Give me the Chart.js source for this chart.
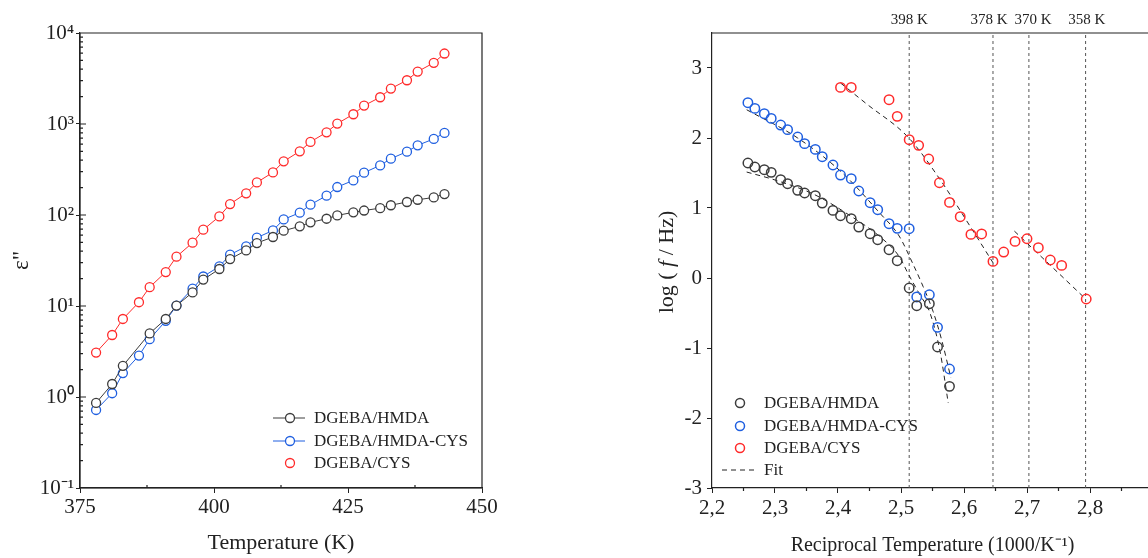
<!DOCTYPE html>
<html>
<head>
<meta charset="utf-8">
<script src="https://cdn.jsdelivr.net/npm/chart.js@4.4.0/dist/chart.umd.min.js"></script>
<style>
  html, body { margin: 0; padding: 0; background: #fff; overflow: hidden; width: 1148px; height: 558px; }
  #left { position: absolute; left: 0; top: 0; }
  #right { position: absolute; left: 574px; top: 0; }
</style>
</head>
<body>
<canvas id="left" width="574" height="558"></canvas>
<canvas id="right" width="600" height="558"></canvas>
<script>
// ---- left panel: eps'' vs temperature ----
const tempK = [378, 381, 383, 386, 388, 391, 393, 396, 398, 401, 403, 406, 408, 411, 413, 416, 418, 421, 423, 426, 428, 431, 433, 436, 438, 441, 443];
const epsHmda = [0.86, 1.39, 2.2, null, 5.0, 7.2, 10.1, 14.1, 19.5, 25.5, 32.8, 40.8, 49.2, 57.3, 67.2, 75, 83, 91, 99, 107, 112, 119, 128, 139, 147, 156, 170];
const epsHmdaCys = [0.72, 1.10, 1.83, 2.85, 4.32, 6.87, 10.1, 15.5, 21.1, 27.2, 36.6, 45.2, 56.3, 67.7, 89.5, 106, 130, 163, 203, 240, 292, 351, 416, 497, 583, 686, 798];
const epsCys = [3.08, 4.8, 7.2, 11.0, 16.1, 23.6, 34.8, 49.6, 68.9, 96.5, 132, 173, 228, 294, 389, 501, 636, 810, 1010, 1280, 1593, 1968, 2450, 3025, 3770, 4700, 5950];
const tempTicks = [375, 400, 425, 450];

// ---- right panel: log f vs 1000/T ----
const recipT = [2.257, 2.268, 2.283, 2.294, 2.309, 2.320, 2.336, 2.347, 2.364, 2.375, 2.392, 2.404, 2.421, 2.433, 2.451, 2.463, 2.481, 2.494, 2.513, 2.525, 2.545, 2.558, 2.577];
const logfHmda = [1.643, 1.586, 1.547, 1.509, 1.404, 1.347, 1.252, 1.214, 1.176, 1.071, 0.966, 0.890, 0.847, 0.728, 0.633, 0.547, 0.404, 0.247, -0.143, -0.396, -0.367, -0.986, -1.548];
const logfHmdaCys = [2.504, 2.423, 2.347, 2.280, 2.185, 2.119, 2.014, 1.919, 1.837, 1.733, 1.614, 1.471, 1.419, 1.243, 1.076, 0.976, 0.776, 0.709, 0.704, -0.271, -0.239, -0.705, -1.300];
const recipCys = [2.404, 2.421, 2.481, 2.494, 2.513, 2.528, 2.544, 2.561, 2.577, 2.594, 2.611, 2.628, 2.646, 2.663, 2.681, 2.700, 2.718, 2.737, 2.755, 2.794];
const logfCys = [2.723, 2.723, 2.547, 2.309, 1.976, 1.895, 1.700, 1.361, 1.080, 0.876, 0.623, 0.629, 0.237, 0.371, 0.523, 0.561, 0.433, 0.257, 0.180, -0.300];

const fitHmdaX = [2.255, 2.30, 2.363, 2.421, 2.466, 2.497, 2.512, 2.530, 2.546, 2.562, 2.575];
const fitHmdaY = [1.514, 1.40, 1.19, 0.88, 0.594, 0.309, 0.05, -0.24, -0.50, -1.05, -1.786];
const fitHmdaCysX = [2.255, 2.336, 2.407, 2.466, 2.497, 2.519, 2.535, 2.551, 2.565, 2.579];
const fitHmdaCysY = [2.404, 2.0, 1.50, 0.93, 0.60, 0.20, -0.12, -0.48, -0.90, -1.42];
const fitCys1X = [2.404, 2.445, 2.5125, 2.561, 2.611, 2.648];
const fitCys1Y = [2.786, 2.49, 2.00, 1.42, 0.72, 0.19];
const fitCys2X = [2.680, 2.792];
const fitCys2Y = [0.67, -0.29];

const vlineX = [2.513, 2.646, 2.703, 2.793];
const vlineLabels = ['398 K', '378 K', '370 K', '358 K'];
const vlineLabelX = [2.513, 2.6396, 2.7095, 2.7948];
const recipTicks = [2.2, 2.3, 2.4, 2.5, 2.6, 2.7, 2.8];
const logfTicks = [-3, -2, -1, 0, 1, 2, 3];

const INK = '#222';
const GREY = '#3c3c3c';
const BLUE = '#1f5fe0';
const RED = '#ff2a2a';
const SERIF = '"Liberation Serif", "Times New Roman", serif';

Chart.defaults.font.family = SERIF;
Chart.defaults.color = INK;

const pts = (xs, ys) => xs.map((x, i) => ({ x: x, y: ys[i] })).filter(p => p.y !== null);

function makeDecor(cfg) {
  return {
    id: cfg.id,
    afterDraw(chart) {
      const { ctx, chartArea: a, scales } = chart;
      ctx.save();
      ctx.strokeStyle = INK;
      ctx.lineWidth = 1.2;
      ctx.beginPath();
      if (cfg.box) {
        ctx.rect(a.left, a.top, a.right - a.left, a.bottom - a.top);
      } else {
        ctx.moveTo(a.left, a.top);
        ctx.lineTo(chart.width, a.top);
      }
      ctx.stroke();

      ctx.beginPath();
      cfg.xMinor.forEach(v => {
        const x = scales.x.getPixelForValue(v);
        ctx.moveTo(x, a.bottom);
        ctx.lineTo(x, a.bottom + cfg.xMinorLen);
      });
      cfg.yMinor.forEach(v => {
        const y = scales.y.getPixelForValue(v);
        ctx.moveTo(a.left, y);
        ctx.lineTo(a.left + 3, y);
      });
      cfg.yMajorIn.forEach(v => {
        const y = scales.y.getPixelForValue(v);
        ctx.moveTo(a.left, y);
        ctx.lineTo(a.left + 6, y);
      });
      ctx.stroke();

      // legend
      ctx.font = '17px ' + SERIF;
      ctx.textBaseline = 'middle';
      cfg.legend.forEach(it => {
        ctx.strokeStyle = it.color;
        ctx.lineWidth = 1;
        if (it.line) {
          ctx.setLineDash(it.dash || []);
          ctx.beginPath();
          ctx.moveTo(it.x0, it.y);
          ctx.lineTo(it.x1, it.y);
          ctx.stroke();
          ctx.setLineDash([]);
        }
        if (it.marker) {
          ctx.lineWidth = it.mw || 1.3;
          ctx.fillStyle = '#fff';
          ctx.beginPath();
          ctx.arc(it.mx, it.y, it.r || 4.5, 0, Math.PI * 2);
          ctx.fill();
          ctx.stroke();
        }
        ctx.fillStyle = INK;
        ctx.fillText(it.text, it.tx, it.y + 1);
      });

      if (cfg.yTitle) {
        const t = cfg.yTitle;
        ctx.translate(t.x, t.y);
        ctx.rotate(-Math.PI / 2);
        const up = '22px ' + SERIF, it = 'italic 22px ' + SERIF;
        const parts = [['log ( ', up], ['f', it], [' / Hz)', up]];
        let w = 0;
        parts.forEach(p => { ctx.font = p[1]; w += ctx.measureText(p[0]).width; });
        let x = -w / 2;
        ctx.fillStyle = INK;
        ctx.textBaseline = 'middle';
        parts.forEach(p => { ctx.font = p[1]; ctx.fillText(p[0], x, 0); x += ctx.measureText(p[0]).width; });
      }
      ctx.restore();
    }
  };
}

// ---------- left chart ----------
const supMap = { '-': '\u207B', '0': '\u2070', '1': '\u00B9', '2': '\u00B2', '3': '\u00B3', '4': '\u2074' };
const logMinor = [];
[0.1, 1, 10, 100, 1000].forEach(d => { for (let m = 2; m <= 9; m++) logMinor.push(m * d); });

new Chart(document.getElementById('left'), {
  type: 'line',
  data: {
    datasets: [
      { label: 'DGEBA/HMDA', data: pts(tempK, epsHmda), borderColor: GREY, borderWidth: 1, pointBorderColor: GREY, pointBackgroundColor: '#fff', pointRadius: 4.5, pointBorderWidth: 1.3, tension: 0 },
      { label: 'DGEBA/HMDA-CYS', data: pts(tempK, epsHmdaCys), borderColor: BLUE, borderWidth: 1, pointBorderColor: BLUE, pointBackgroundColor: '#fff', pointRadius: 4.5, pointBorderWidth: 1.3, tension: 0 },
      { label: 'DGEBA/CYS', data: pts(tempK, epsCys), borderColor: RED, borderWidth: 1, pointBorderColor: RED, pointBackgroundColor: '#fff', pointRadius: 4.5, pointBorderWidth: 1.3, tension: 0 }
    ]
  },
  options: {
    responsive: false,
    animation: false,
    devicePixelRatio: 1,
    layout: { padding: { left: 0, right: 92, top: 33, bottom: 0 } },
    plugins: { legend: { display: false }, tooltip: { enabled: false } },
    scales: {
      x: {
        type: 'linear', min: 375, max: 450,
        afterBuildTicks: s => { s.ticks = tempTicks.map(v => ({ value: v })); },
        afterFit: s => { s.height = 70; },
        ticks: { font: { size: 21 }, color: INK, padding: 2, maxRotation: 0 },
        grid: { drawOnChartArea: false, tickLength: 5, color: INK },
        border: { color: INK, width: 1.2 },
        title: { display: true, text: 'Temperature (K)', font: { size: 22 }, color: INK, padding: { top: 0, bottom: 2 } }
      },
      y: {
        type: 'logarithmic', min: 0.1, max: 10000,
        afterBuildTicks: s => { s.ticks = [0.1, 1, 10, 100, 1000, 10000].map(v => ({ value: v })); },
        afterFit: s => { s.width = 80; },
        ticks: {
          font: { size: 21 }, color: INK, padding: 2,
          callback: v => '10' + String(Math.round(Math.log10(v))).split('').map(c => supMap[c]).join('')
        },
        grid: { drawOnChartArea: false, tickLength: 4, color: INK },
        border: { color: INK, width: 1.2 },
        title: { display: true, text: 'ε"', font: { size: 23 }, color: INK, padding: { top: 8, bottom: 0 } }
      }
    }
  },
  plugins: [makeDecor({
    id: 'decorLeft', box: true,
    xMinor: [387.5, 412.5, 437.5], xMinorLen: -3,
    yMinor: logMinor, yMajorIn: [1, 10, 100, 1000],
    legend: [
      { text: 'DGEBA/HMDA', color: GREY, line: true, x0: 273, x1: 305, marker: true, mx: 290, tx: 314, y: 418 },
      { text: 'DGEBA/HMDA-CYS', color: BLUE, line: true, x0: 273, x1: 305, marker: true, mx: 290, tx: 314, y: 441 },
      { text: 'DGEBA/CYS', color: RED, line: false, marker: true, mx: 290, tx: 314, y: 463 }
    ]
  })]
});

// ---------- right chart ----------
const vlineSets = vlineX.map(x => ({
  data: [{ x: x, y: -3 }, { x: x, y: 3.5 }], showLine: true, borderColor: '#555', borderWidth: 1,
  borderDash: [3, 3], pointRadius: 0
}));
const fitStyle = { showLine: true, borderColor: INK, borderWidth: 1, borderDash: [5, 4], pointRadius: 0, cubicInterpolationMode: 'monotone' };

new Chart(document.getElementById('right'), {
  type: 'scatter',
  data: {
    datasets: [
      { label: 'DGEBA/HMDA', data: pts(recipT, logfHmda), pointBorderColor: GREY, pointBackgroundColor: 'rgba(0,0,0,0)', pointRadius: 4.7, pointBorderWidth: 1.5 },
      { label: 'DGEBA/HMDA-CYS', data: pts(recipT, logfHmdaCys), pointBorderColor: BLUE, pointBackgroundColor: 'rgba(0,0,0,0)', pointRadius: 4.7, pointBorderWidth: 1.5 },
      { label: 'DGEBA/CYS', data: pts(recipCys, logfCys), pointBorderColor: RED, pointBackgroundColor: 'rgba(0,0,0,0)', pointRadius: 4.7, pointBorderWidth: 1.5 },
      Object.assign({ label: 'Fit', data: pts(fitHmdaX, fitHmdaY) }, fitStyle),
      Object.assign({ label: 'Fit', data: pts(fitHmdaCysX, fitHmdaCysY) }, fitStyle),
      Object.assign({ label: 'Fit', data: pts(fitCys1X, fitCys1Y) }, fitStyle),
      Object.assign({ label: 'Fit', data: pts(fitCys2X, fitCys2Y) }, fitStyle),
      ...vlineSets
    ]
  },
  options: {
    responsive: false,
    animation: false,
    devicePixelRatio: 1,
    layout: { padding: { left: 0, right: 21, top: 0, bottom: 0 } },
    plugins: { legend: { display: false }, tooltip: { enabled: false } },
    scales: {
      x: {
        type: 'linear', min: 2.2, max: 2.9,
        afterBuildTicks: s => { s.ticks = recipTicks.map(v => ({ value: v })); },
        afterFit: s => { s.height = 70; },
        ticks: { font: { size: 21 }, color: INK, padding: 3, maxRotation: 0, callback: v => v.toFixed(1).replace('.', ',') },
        grid: { drawOnChartArea: false, tickLength: 5, color: INK },
        border: { color: INK, width: 1.2 },
        title: { display: true, text: 'Reciprocal Temperature (1000/K\u207B\u00B9)', font: { size: 20 }, color: INK, padding: { top: 0, bottom: 0 } }
      },
      x2: {
        type: 'linear', position: 'top', min: 2.2, max: 2.9,
        afterBuildTicks: s => { s.ticks = vlineLabelX.map(v => ({ value: v })); },
        afterFit: s => { s.height = 33; },
        ticks: { font: { size: 15 }, color: INK, padding: 4, autoSkip: false, maxRotation: 0, callback: (v, i) => vlineLabels[i] },
        grid: { display: false, drawTicks: false },
        border: { display: false }
      },
      y: {
        type: 'linear', min: -3, max: 3.5,
        afterBuildTicks: s => { s.ticks = logfTicks.map(v => ({ value: v })); },
        afterFit: s => { s.width = 138; },
        ticks: { font: { size: 21 }, color: INK, padding: 5 },
        grid: { drawOnChartArea: false, tickLength: 5, color: INK },
        border: { color: INK, width: 1.2 }
      }
    }
  },
  plugins: [makeDecor({
    id: 'decorRight', box: false,
    xMinor: [2.25, 2.35, 2.45, 2.55, 2.65, 2.75, 2.85], xMinorLen: 3,
    yMinor: [], yMajorIn: [],
    yTitle: { x: 93, y: 262 },
    legend: [
      { text: 'DGEBA/HMDA', color: GREY, marker: true, mx: 166, r: 4.5, mw: 1.5, tx: 190, y: 403 },
      { text: 'DGEBA/HMDA-CYS', color: BLUE, marker: true, mx: 166, r: 4.5, mw: 1.5, tx: 190, y: 426 },
      { text: 'DGEBA/CYS', color: RED, marker: true, mx: 166, r: 4.5, mw: 1.5, tx: 190, y: 448 },
      { text: 'Fit', color: INK, line: true, dash: [5, 4], x0: 148, x1: 182, tx: 190, y: 470 }
    ]
  })]
});
</script>
</body>
</html>
